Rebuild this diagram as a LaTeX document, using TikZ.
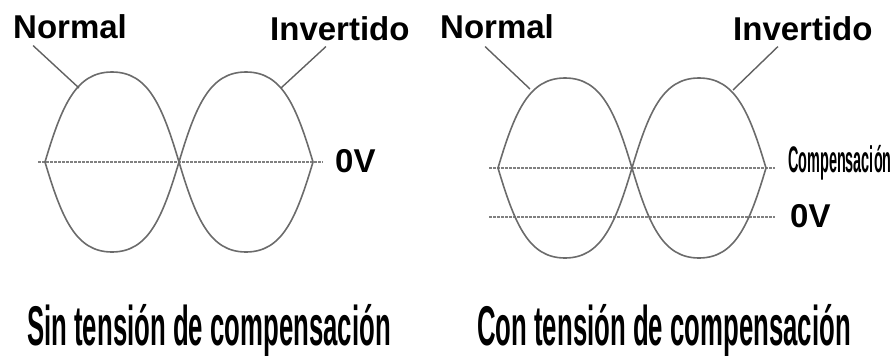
\documentclass[tikz,border=0pt]{standalone}
\usepackage{fontspec}
\setmainfont{Liberation Sans}
\newfontfamily\narrowfont[FakeStretch=0.46]{Liberation Sans}
\newfontfamily\tinynarrowfont[FakeStretch=0.39]{Liberation Sans}
\usetikzlibrary{positioning,calc}

\begin{document}
\begin{tikzpicture}[
    x=1pt, y=-1pt,
    % text styles
    lbl/.style      = {font=\fontsize{33}{33}\selectfont\bfseries, inner sep=0pt,
                        anchor=base west},
    title/.style    = {font=\fontsize{56}{56}\selectfont\narrowfont\bfseries,
                        inner sep=0pt, anchor=base west},
    complbl/.style  = {font=\fontsize{37}{37}\selectfont\tinynarrowfont\bfseries,
                        inner sep=0pt, anchor=base west},
    % lines
    wave/.style     = {line width=1.6pt, black!58},
    leader/.style   = {line width=1.4pt, black!62},
    refline/.style  = {line width=1.8pt, black!50, dash pattern=on 2.5pt off 1.5pt},
    % normal + inverted signal, tip at the origin
    wavepair/.pic   = {
      \draw[wave] (0,0) .. controls (17,-57) and (31,-90) .. (67,-90)
                        .. controls (103,-90) and (117,-57) .. (134,0)
                        .. controls (151,57) and (165,90) .. (201,90)
                        .. controls (237,90) and (251,57) .. (268,0);
      \draw[wave] (0,0) .. controls (17,57) and (31,90) .. (67,90)
                        .. controls (103,90) and (117,57) .. (134,0)
                        .. controls (151,-57) and (165,-90) .. (201,-90)
                        .. controls (237,-90) and (251,-57) .. (268,0);
    }
  ]
\useasboundingbox (0,0) rectangle (895,356);

% ============================================================
% Left: without offset voltage
% ============================================================
\draw[refline] (38,162) -- (323,162);
\pic at (45,162) {wavepair};

\node[lbl] (normA) at (13,38) {Normal};
\node[lbl] (invA) at (270,40) {Invertido};
\node[lbl] (zeroA) at (335,172) {0V};

\coordinate (normAend) at (79,88);
\coordinate (invAend) at (281,88);
\draw[leader] ($(normA.south west)+(20,7)$) -- (normAend);
\draw[leader] ($(invA.south west)+(56,6)$) -- (invAend);

\node[title] (titA) at (27,345) {Sin tensión de compensación};

% ============================================================
% Right: with offset voltage
% ============================================================
\draw[refline] (489,168) -- (775,168);
\draw[refline] (489,217) -- (775,217);
\pic at (498,168) {wavepair};

\node[lbl] (normB) at (440,38) {Normal};
\node[lbl] (invB) at (733,40) {Invertido};
\node[complbl] (compB) at (788,172) {Compensación};
\node[lbl] (zeroB) at (790,227) {0V};

\coordinate (normBend) at (530,89);
\coordinate (invBend) at (733,90);
\draw[leader] ($(normB.south west)+(45,8)$) -- (normBend);
\draw[leader] ($(invB.south west)+(45,6)$) -- (invBend);

\node[title] (titB) at (477,345) {Con tensión de compensación};

\end{tikzpicture}
\end{document}
